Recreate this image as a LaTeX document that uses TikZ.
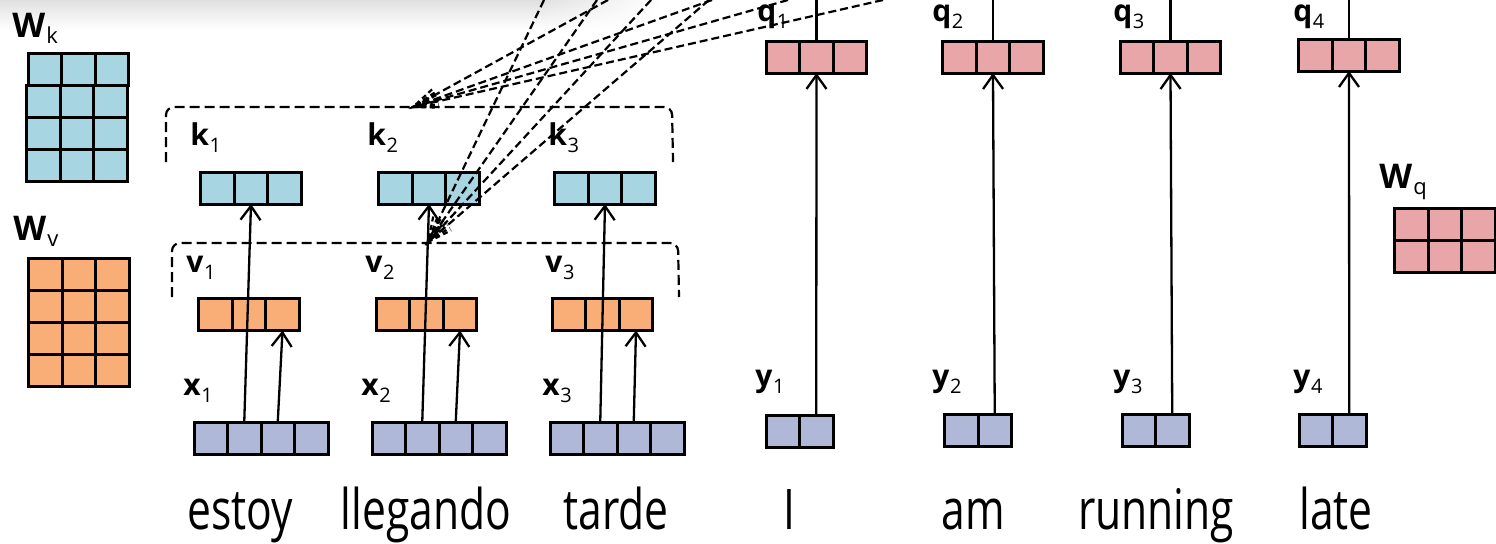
\documentclass[tikz,border=0pt]{standalone}
\usepackage{fontspec}
\setmainfont{Open Sans}
\usetikzlibrary{arrows.meta,shadings,calc}
\definecolor{kcol}{RGB}{168,213,226}
\definecolor{vcol}{RGB}{249,174,120}
\definecolor{xcol}{RGB}{175,184,214}
\definecolor{qcol}{RGB}{233,166,168}
\newcommand\vlab[2]{{\fontsize{15}{15}\selectfont\bfseries #1}\kern0.3pt\raisebox{-3.5pt}{\fontsize{10}{10}\selectfont #2}}
\newcommand\wlab[2]{{\fontsize{17}{17}\selectfont\bfseries #1}\kern0.5pt\raisebox{-3pt}{\fontsize{11}{11}\selectfont #2}}
\newcommand\wrd[1]{\scalebox{0.76}[1]{#1}}
\begin{document}
\begin{tikzpicture}[x=0.5pt,y=-0.5pt,
  cellgrid/.style 2 args={path picture={
    \foreach \i in {1,...,#1}{\draw[line width=1.5pt] ([xshift=\i*16.75pt]path picture bounding box.south west) -- ([xshift=\i*16.75pt]path picture bounding box.north west);}
    \foreach \j in {1,...,#2}{\draw[line width=1.5pt] ([yshift=\j*16pt]path picture bounding box.south west) -- ([yshift=\j*16pt]path picture bounding box.south east);}
  }},
  cells/.style n args={3}{draw=black, line width=1.5pt, fill=#1, inner sep=0pt, outer sep=0pt,
    minimum width=#2*16.75pt, minimum height=#3*16pt, cellgrid={#2}{#3}},
  arr/.style={line width=1.15pt, -{Straight Barb[length=7pt,width=10pt]}},
  plain/.style={line width=1.15pt},
  brk/.style={line width=1.1pt, dash pattern=on 5pt off 2.5pt, rounded corners=4pt},
  fan/.style={line width=1.1pt, dash pattern=on 4pt off 2pt},
  fanbarb/.style={line width=1.1pt, dash pattern=on 2.5pt off 1.8pt},
  lab/.style={anchor=base west, inner sep=0pt},
  word/.style={anchor=base, inner sep=0pt, font=\fontsize{28}{28}\selectfont}
]
\useasboundingbox (0,0) rectangle (1496,543);
% top shadow
\shade[top color=black!12, bottom color=white] (0,0) rectangle (540,30);
\shade[upper left=black!12, upper right=white, lower left=white, lower right=white] (540,0) rectangle (660,30);

% weight matrices
\node[lab] (Wkl) at (12,37) {\wlab{W}{k}};
\node[cells={kcol}{3}{1}] (Wk1) at (78.5,69) {};
\node[cells={kcol}{3}{3}] (Wk2) at (77,133.5) {};
\node[lab] (Wvl) at (13,240) {\wlab{W}{v}};
\node[cells={vcol}{3}{4}] (Wv) at (79,322) {};
\node[lab] (Wql) at (1379,188) {\wlab{W}{q}};
\node[cells={qcol}{3}{2}] (Wq) at (1445,240) {};

% keys
\node[cells={kcol}{3}{1}] (k1) at (251,188) {};
\node[cells={kcol}{3}{1}] (k2) at (429,188) {};
\node[cells={kcol}{3}{1}] (k3) at (605,188) {};
\node[lab] (k1l) at (190,145) {\vlab{k}{1}};
\node[lab] (k2l) at (367,145) {\vlab{k}{2}};
\node[lab] (k3l) at (548,145) {\vlab{k}{3}};
% values
\node[cells={vcol}{3}{1}] (v1) at (249,314.5) {};
\node[cells={vcol}{3}{1}] (v2) at (426.5,314.5) {};
\node[cells={vcol}{3}{1}] (v3) at (602.5,314.5) {};
\node[lab] (v1l) at (186,272) {\vlab{v}{1}};
\node[lab] (v2l) at (365,272) {\vlab{v}{2}};
\node[lab] (v3l) at (545,272) {\vlab{v}{3}};
% inputs
\node[cells={xcol}{4}{1}] (x1) at (261,438) {};
\node[cells={xcol}{4}{1}] (x2) at (439,438) {};
\node[cells={xcol}{4}{1}] (x3) at (617,438) {};
\node[lab] (x1l) at (183,395) {\vlab{x}{1}};
\node[lab] (x2l) at (361,395) {\vlab{x}{2}};
\node[lab] (x3l) at (542,395) {\vlab{x}{3}};
% queries
\node[cells={qcol}{3}{1}] (q1) at (816.5,57) {};
\node[cells={qcol}{3}{1}] (q2) at (993,57) {};
\node[cells={qcol}{3}{1}] (q3) at (1170.5,57) {};
\node[cells={qcol}{3}{1}] (q4) at (1349,55) {};
\node[lab] (q1l) at (757,21) {\vlab{q}{1}};
\node[lab] (q2l) at (932,21) {\vlab{q}{2}};
\node[lab] (q3l) at (1113,21) {\vlab{q}{3}};
\node[lab] (q4l) at (1293,21) {\vlab{q}{4}};
% outputs
\node[cells={xcol}{2}{1}] (y1) at (799.5,431) {};
\node[cells={xcol}{2}{1}] (y2) at (978,430) {};
\node[cells={xcol}{2}{1}] (y3) at (1155.5,430) {};
\node[cells={xcol}{2}{1}] (y4) at (1332.5,430) {};
\node[lab] (y1l) at (755,386) {\vlab{y}{1}};
\node[lab] (y2l) at (932,386) {\vlab{y}{2}};
\node[lab] (y3l) at (1113,386) {\vlab{y}{3}};
\node[lab] (y4l) at (1293,386) {\vlab{y}{4}};

% words
\node[word] (w1) at (240.5,529) {\wrd{estoy}};
\node[word] (w2) at (426,529) {\wrd{llegando}};
\node[word] (w3) at (616,529) {\wrd{tarde}};
\node[word] (w4) at (789,529) {\wrd{I}};
\node[word] (w5) at (973,529) {\wrd{am}};
\node[word] (w6) at (1156,529) {\wrd{running}};
\node[word] (w7) at (1336,529) {\wrd{late}};

% brackets
\draw[brk] (166,162) -- (166,107) -- (672,107) -- (673,162);
\draw[brk] (172,297) -- (172,243) -- (678,243) -- (679,297);

% arrows x -> k, x -> v
\foreach \n in {1,2,3}{
  \draw[arr] ([xshift=-8.375pt]x\n.north) -- (k\n.south);
  \draw[arr] ([xshift=8.375pt]x\n.north) -- ([xshift=16.75pt]v\n.south);
}
% arrows y -> q and lines above q
\foreach \n/\t in {1/816.5,2/993,3/1170.5,4/1349}{
  \draw[arr] ([xshift=8.375pt]y\n.north) -- (q\n.south);
  \coordinate (qt\n) at (\t,0);
  \draw[plain] (q\n.north) -- (qt\n);
}

% attention fans
\coordinate (fa) at (413,107);
\coordinate (fb) at (428,242);
\foreach \t in {608,712,788,883}{
  \coordinate (ta) at (\t,0);
  \draw[fan] (ta) -- (fa);
  \draw[fanbarb] ($(fa)!13pt!14:(ta)$) -- (fa) -- ($(fa)!13pt!-14:(ta)$);
}
\foreach \t in {544,597,651,709}{
  \coordinate (tb) at (\t,0);
  \draw[fan] (tb) -- (fb);
  \draw[fanbarb] ($(fb)!13pt!14:(tb)$) -- (fb) -- ($(fb)!13pt!-14:(tb)$);
}
\end{tikzpicture}
\end{document}
